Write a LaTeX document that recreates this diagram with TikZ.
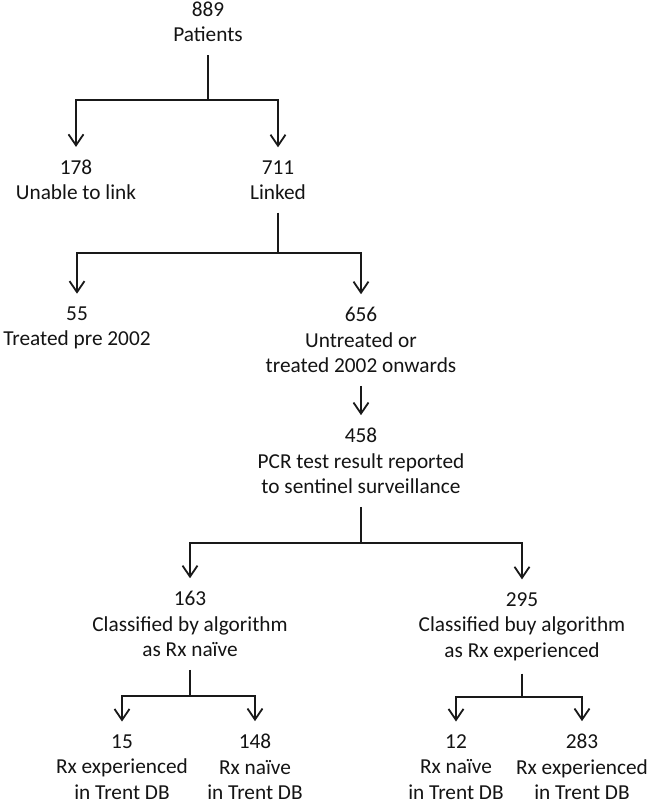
\documentclass[tikz,border=0pt]{standalone}
\usepackage{fontspec}
\setmainfont{Carlito}
\usetikzlibrary{arrows.meta}
\tikzset{
  lbl/.style={align=center, inner sep=0pt, outer xsep=0pt, outer ysep=13pt,
    font=\fontsize{21.3}{25.5}\selectfont, text=black!92},
  stem/.style={line width=2.6pt, draw=black!90},
  branch/.style={line width=1.8pt, draw=black!90, line join=miter,
    -{Straight Barb[length=11pt,width=15pt,line width=1.8pt]}},
}
\begin{document}
\begin{tikzpicture}[x=1pt,y=-1pt]
\useasboundingbox[fill=white] (0,0) rectangle (650,805);
% nodes
\node[lbl] (n889) at (208,22) {889\\Patients};
\node[lbl] (n178) at (76,180) {178\\Unable to link};
\node[lbl] (n711) at (278,180) {711\\Linked};
\node[lbl] (n55) at (77,328) {55\\Treated pre 2002};
\node[lbl] (n656) at (361,340) {656\\Untreated or\\treated 2002 onwards};
\node[lbl] (n458) at (361,461) {458\\PCR test result reported\\to sentinel surveillance};
\node[lbl] (n163) at (190,624) {163\\Classified by algorithm\\as Rx na\"ive};
\node[lbl] (n295) at (522,626.5) {295\\Classified buy algorithm\\as Rx experienced};
\node[lbl] (n15) at (122,767) {15\\Rx experienced\\in Trent DB};
\node[lbl] (n148) at (255,767) {148\\Rx na\"ive\\in Trent DB};
\node[lbl] (n12) at (456,767) {12\\Rx na\"ive\\in Trent DB};
\node[lbl] (n283) at (582,767) {283\\Rx experienced\\in Trent DB};
% junctions
\coordinate (j1) at (n889.south |- 0,100);
\coordinate (j2) at (n711.south |- 0,253);
\coordinate (j3) at (n458.south |- 0,543);
\coordinate (j4) at (n163.south |- 0,696);
\coordinate (j5) at (n295.south |- 0,697);
% connectors
\draw[stem] (n889.south) -- (j1);
\draw[branch] (j1) -| (n178.north);
\draw[branch] (j1) -| (n711.north);
\draw[stem] (n711.south) -- (j2);
\draw[branch] (j2) -| (n55.north);
\draw[branch] (j2) -| (n656.north);
\draw[branch] (n656.south) -- (n458.north);
\draw[stem] (n458.south) -- (j3);
\draw[branch] (j3) -| (n163.north);
\draw[branch] (j3) -| (n295.north);
\draw[stem] (n163.south) -- (j4);
\draw[branch] (j4) -| (n15.north);
\draw[branch] (j4) -| (n148.north);
\draw[stem] (n295.south) -- (j5);
\draw[branch] (j5) -| (n12.north);
\draw[branch] (j5) -| (n283.north);
\end{tikzpicture}
\end{document}
